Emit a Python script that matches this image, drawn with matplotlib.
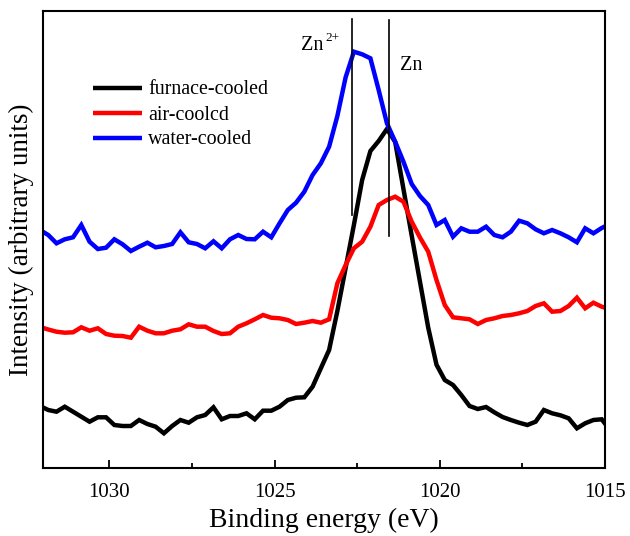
import numpy as np
import matplotlib
matplotlib.use("Agg")
import matplotlib.pyplot as plt
from matplotlib.ticker import MultipleLocator

# Binding energy grid (eV), 0.25 eV steps
energy = np.round(1032.1 - 0.25 * np.arange(70), 2)

furnace_cooled = [61.7, 57.7, 56, 61, 56, 51, 46, 50.4, 50.4, 42.7,
                  41.7, 41.7, 47.7, 43.7, 41, 34.4, 41.7, 47.7, 45, 50.4,
                  52.7, 60.4, 48.4, 51.7, 51.7, 54.4, 48.4, 57, 57, 61,
                  67.7, 70, 70.4, 81, 99.4, 117.7, 156.7, 199.7, 242.7, 287.7,
                  316.7, 326.7, 338.7, 325.7, 278.7, 232, 186, 140, 103, 87.7,
                  82.7, 72.7, 61.7, 58.7, 60.7, 55.4, 50.7, 47.7, 45, 42.7,
                  46, 57.7, 54.4, 52.4, 49.4, 39.4, 44.4, 47.7, 48.4, 37.7]

air_cooled = [140.7, 138.2, 136, 135, 135.4, 140.4, 137, 139.4, 133.7, 132,
              131.7, 130, 141, 137, 134.4, 134.4, 137, 138.4, 143.4, 141,
              141, 136.7, 133.7, 134.4, 141, 144.4, 148.4, 152.7, 150, 149.4,
              147.7, 143.7, 145, 146.7, 145, 148.4, 184.4, 202.7, 219.4, 226,
              241, 262.7, 267.7, 271, 266, 246, 230.2, 216, 187.7, 162.7,
              150.4, 149.4, 148.4, 143.7, 147.7, 149.4, 151.7, 152.7, 154.4, 156.7,
              161.7, 164.4, 156, 156.7, 161.7, 170, 159.4, 165, 161, 158.7]

water_cooled = [237.7, 232.7, 224.4, 228.4, 230.4, 242.7, 226, 218.7, 220, 228.4,
                223.4, 216.7, 221, 225, 220.4, 221.7, 223.7, 235.4, 225.4, 223.7,
                219.4, 226.4, 219.4, 228.4, 232.7, 228.7, 228.4, 236, 230.4, 244.4,
                257.7, 265, 276, 292.7, 304.4, 321, 351.7, 390.4, 416, 413.4,
                409.4, 377.7, 344.4, 326, 306, 283.7, 271.7, 262.7, 242.7, 247.7,
                231, 239.4, 236, 236, 241, 232.7, 230.4, 236, 247, 244.4,
                238.4, 234.4, 237.7, 234.4, 230.4, 225.4, 239.4, 234.4, 239.7, 243.7]

series_labels = ["furnace-cooled", "air-coolcd", "water-cooled"]
series_colors = ["#000000", "#ff0000", "#0000ff"]

# reference lines: positions (eV) and vertical extents (intensity)
ref_lines = [1022.67, 1021.54]
ref_bottom = [252.7, 231.7]
ref_top = [448.7, 447.7]

plt.rcParams['font.family'] = ['Liberation Serif', 'DejaVu Serif']

fig = plt.figure(figsize=(6.3, 5.36), dpi=100)
ax = fig.add_axes([43.3 / 630, 1 - 467.7 / 536, (605 - 43.3) / 630, (467.7 - 11) / 536])

for ys, lab, col in zip([furnace_cooled, air_cooled, water_cooled], series_labels, series_colors):
    ax.plot(energy, ys, color=col, lw=3.2, label=lab, solid_joinstyle='miter', solid_capstyle='butt')

for xv, yb, yt in zip(ref_lines, ref_bottom, ref_top):
    ax.plot([xv, xv], [yb, yt], color='black', lw=1.2)

ax.text(301.5 / 630, 1 - 50 / 536, "Zn", fontsize=14.5, ha='left', va='baseline',
        transform=fig.transFigure)
ax.text(325.5 / 630, 1 - 41 / 536, "2+", fontsize=9.5, ha='left', va='baseline',
        transform=fig.transFigure)
ax.text(400 / 630, 1 - 70 / 536, "Zn", fontsize=14.5, ha='left', va='baseline',
        transform=fig.transFigure)

ax.set_xlim(1032, 1015)
ax.set_ylim(0, 456.7)
ax.xaxis.set_major_locator(MultipleLocator(5))
ax.xaxis.set_minor_locator(MultipleLocator(2.5))
ax.set_yticks([])
ax.tick_params(axis='x', which='major', direction='in', length=6, width=1.3, labelsize=15, pad=11)
ax.tick_params(axis='x', which='minor', direction='in', length=3.6, width=1.3)
for s in ax.spines.values():
    s.set_linewidth(1.5)

ax.set_xlabel("Binding energy (eV)", fontsize=20, labelpad=4)
ax.set_ylabel("Intensity (arbitrary units)", fontsize=19.5, labelpad=7)

leg = ax.legend(loc='upper left', bbox_to_anchor=(93.3 / 630, 1 - 80.5 / 536),
                bbox_transform=fig.transFigure, frameon=False, fontsize=14.4,
                handlelength=2.45, handletextpad=0.3, labelspacing=0.3,
                borderpad=0, borderaxespad=0)

fig.savefig("out.png", dpi=100)
